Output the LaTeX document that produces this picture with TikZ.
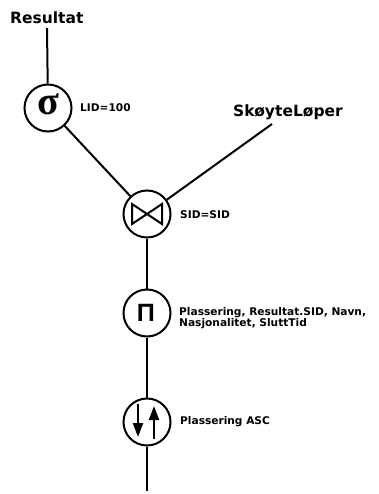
\documentclass[tikz,border=0pt]{standalone}
\usepackage{fontspec}
\setmainfont{DejaVu Sans}
\newfontfamily\greekfont{Liberation Serif}
\newfontfamily\opfont{Liberation Sans}
\usetikzlibrary{arrows.meta}
\begin{document}
\begin{tikzpicture}[x=1pt,y=-1pt,
  edge/.style={line width=2pt},
  opnode/.style={circle,draw,line width=2pt,minimum size=47pt,inner sep=0pt},
  relname/.style={font=\fontsize{15.5}{17}\selectfont\bfseries,inner sep=0pt,anchor=west},
  cond/.style={font=\fontsize{10.6}{12}\selectfont\bfseries,inner sep=0pt,anchor=west,align=left},
  tri/.style={line width=2pt,line join=miter},
  sortarrow/.style={line width=2.2pt,-{Triangle[length=14pt,width=10pt]}}
]
\useasboundingbox (0,0) rectangle (378,494);

% relations
\node[relname] (res) at (10,18) {Resultat};
\node[relname] (skl) at (233,112) {SkøyteLøper};
\coordinate (sklfoot) at (272,124);
\coordinate (resfoot) at (47,28);

% selection
\node[opnode] (sel) at (48,108) {};
\node[font=\greekfont\bfseries\fontsize{40}{40}\selectfont] (selsym) at (48,104) {σ};
\node[cond] (selc) at (80,108) {LID=100};

% join
\node[opnode] (join) at (147,214) {};
\draw[tri] (132,204) -- (132,224) -- (162,204) -- (162,224) -- cycle;
\node[cond] (joinc) at (180,215) {SID=SID};

% projection
\node[opnode] (proj) at (147,313) {};
\node[font=\opfont\fontsize{25}{25}\selectfont\bfseries] (projsym) at (146,313) {Π};
\node[cond] (projc) at (179,318.5) {Plassering, Resultat.SID, Navn,\\[-1pt]Nasjonalitet, SluttTid};

% sorting
\node[opnode] (sort) at (147,422) {};
\draw[sortarrow] (138,404) -- (138,437);
\draw[sortarrow] (154,439) -- (154,406);
\node[cond] (sortc) at (180,422) {Plassering ASC};
\coordinate (out) at (147,491);

% connectors
\draw[edge] (resfoot) -- (sel);
\draw[edge] (sel) -- (join);
\draw[edge] (join) -- (sklfoot);
\draw[edge] (join) -- (proj);
\draw[edge] (proj) -- (sort);
\draw[edge] (sort) -- (out);
\end{tikzpicture}
\end{document}
